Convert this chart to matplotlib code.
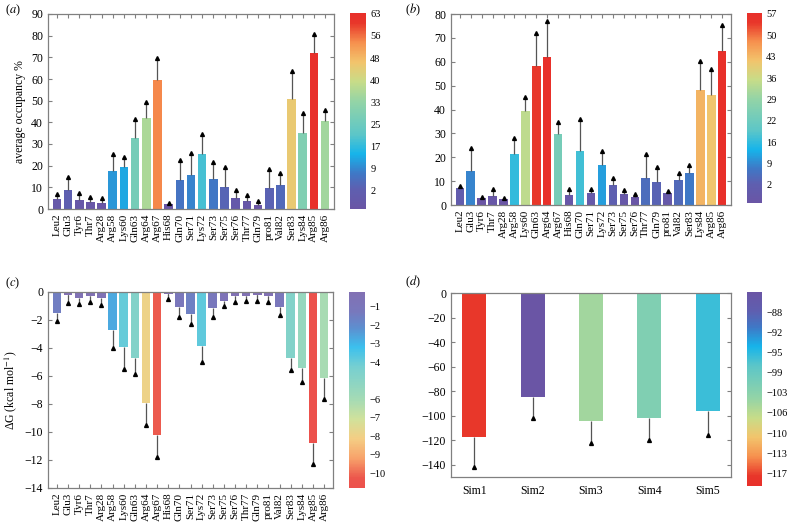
import numpy as np
import matplotlib
matplotlib.use("Agg")
import matplotlib.pyplot as plt
from matplotlib import colors as mcolors
from matplotlib import cm

plt.rcParams["font.family"] = ["Liberation Serif", "DejaVu Serif"]
plt.rcParams["mathtext.fontset"] = "stix"

residues = ['Leu2', 'Glu3', 'Tyr6', 'Thr7', 'Arg28', 'Arg58', 'Lys60', 'Gln63', 'Arg64',
            'Arg67', 'His68', 'Gln70', 'Ser71', 'Lys72', 'Ser73', 'Ser75', 'Ser76', 'Thr77',
            'Gln79', 'pro81', 'Val82', 'Ser83', 'Lys84', 'Arg85', 'Arg86']

# (a) average occupancy %
occ_a = [4.5, 8.8, 4.0, 3.2, 2.8, 17.5, 19.5, 32.7, 41.8, 59.4, 2.3, 13.2, 15.5,
         25.3, 13.8, 10.0, 4.9, 3.7, 2.0, 9.5, 10.9, 50.7, 34.9, 72.2, 40.6]
err_a = [2.4, 6.1, 3.2, 2.5, 2.3, 7.7, 4.5, 8.8, 7.4, 10.3, 0.6, 9.5, 10.2,
         9.3, 7.7, 9.4, 3.7, 2.8, 1.5, 8.8, 5.7, 13.2, 9.6, 8.6, 5.2]

# (b) average occupancy %
occ_b = [7.0, 14.4, 2.8, 3.8, 2.4, 21.5, 39.5, 58.1, 62.0, 29.6, 4.1, 22.8, 4.9,
         16.9, 8.5, 4.5, 3.4, 11.3, 9.5, 4.9, 10.6, 13.3, 48.2, 46.2, 64.4]
err_b = [1.1, 9.3, 0.7, 3.0, 0.7, 6.6, 5.8, 14.0, 14.9, 5.0, 2.5, 13.4, 1.7,
         5.7, 2.7, 1.9, 1.1, 10.2, 6.6, 1.1, 2.8, 3.3, 12.1, 10.9, 11.0]

# (c) dG per residue
dg_c = [-1.52, -0.19, -0.40, -0.31, -0.45, -2.69, -3.95, -4.74, -7.93, -10.21, -0.14,
        -1.07, -1.57, -3.83, -1.17, -0.64, -0.26, -0.31, -0.24, -0.31, -1.07, -4.69,
        -5.45, -10.79, -6.12]
err_c = [0.55, 0.60, 0.43, 0.40, 0.45, 1.29, 1.53, 1.12, 1.59, 1.58, 0.38,
         0.69, 0.72, 1.15, 0.62, 0.38, 0.43, 0.36, 0.38, 0.43, 0.55, 0.91,
         0.95, 1.47, 1.50]

# (d) per simulation
sims = ['Sim1', 'Sim2', 'Sim3', 'Sim4', 'Sim5']
dg_d = [-117.5, -84.5, -104.5, -101.5, -96.0]
err_d = [24.0, 17.0, 17.5, 18.5, 20.0]

# colour ranges (bars / colour bars) and colour bar labels
bar_a_range = (2.0, 69.0)
cb_a_range = (-4.3, 63.3)
cb_a_labels = ['2', '9', '17', '25', '33', '40', '48', '56', '63']
bar_b_range = (2.7, 61.2)
cb_b_range = (-3.8, 57.3)
cb_b_labels = ['2', '9', '16', '22', '29', '36', '43', '50', '57']
cb_c_range = (-10.8, -0.2)
cb_c_ticks = [-1, -2, -3, -4, -6, -7, -8, -9, -10]
cb_d_range = (-119.3, -84.3)
cb_d_labels = ['\u221288', '\u221292', '\u221295', '\u221299', '\u2212103', '\u2212106',
               '\u2212110', '\u2212113', '\u2212117']

stops = [(0.0, '#6a55a5'), (0.10, '#5e5fb0'), (0.18, '#3f78c6'), (0.28, '#16b4ea'),
         (0.38, '#5cc6c8'), (0.55, '#94d4a6'), (0.65, '#c8dc88'), (0.75, '#f2c46c'),
         (0.85, '#f6904e'), (0.95, '#e8362a'), (1.0, '#e8302a')]
cmap = mcolors.LinearSegmentedColormap.from_list('occ', stops)
cmap_r = cmap.reversed()


def lighten(c, f=0.16):
    r = np.array(mcolors.to_rgb(c))
    return tuple(r + (1 - r) * f)


cmap_light_r = mcolors.LinearSegmentedColormap.from_list(
    'light', [(1 - p, lighten(c)) for p, c in stops[::-1]])

W, H = 790, 523
fig = plt.figure(figsize=(W / 100, H / 100), dpi=100)


def px(l, t, r, b):
    return [l / W, 1 - b / H, (r - l) / W, (b - t) / H]


spine_col = '#808080'


def style(ax):
    for s in ax.spines.values():
        s.set_color(spine_col)
        s.set_linewidth(0.9)
    ax.tick_params(direction='in', top=True, right=True, length=3, color=spine_col,
                   labelsize=8.5)
    ax.tick_params(axis='x', labelsize=8)


def bars(ax, vals, errs, cmap_, norm, width=0.77):
    x = np.arange(len(vals))
    vals = np.array(vals)
    errs = np.array(errs)
    ax.bar(x, vals, width=width, color=cmap_(norm(vals)), zorder=2)
    sign = np.sign(vals)
    zero = np.zeros_like(errs)
    if sign[0] > 0:
        yerr = [zero, errs]
    else:
        yerr = [errs, zero]
    ax.errorbar(x, vals, yerr=yerr, fmt='none', ecolor='#555555', elinewidth=0.9,
                capsize=0, zorder=3)
    ax.plot(x, vals + sign * errs, '^', ms=2.8, color='black', zorder=4)
    return x


def colorbar(cax, cmap_, rng, ticks, labels):
    sm = cm.ScalarMappable(norm=mcolors.Normalize(*rng), cmap=cmap_)
    cb = fig.colorbar(sm, cax=cax)
    cb.outline.set_visible(False)
    cb.set_ticks(ticks)
    cb.set_ticklabels(labels)
    cax.tick_params(length=0, labelsize=7.5, pad=3)


# (a)
ax_a = fig.add_axes(px(48, 14, 334, 209))
x = bars(ax_a, occ_a, err_a, cmap, mcolors.Normalize(*bar_a_range))
ax_a.set_xlim(-0.8, 24.8)
ax_a.set_ylim(0, 90)
ax_a.set_yticks(np.arange(0, 91, 10))
ax_a.set_xticks(x)
ax_a.set_xticklabels(residues, rotation=90)
ax_a.set_ylabel('average occupancy %', fontsize=8.5)
style(ax_a)
cax_a = fig.add_axes(px(350, 13, 366, 209))
colorbar(cax_a, cmap, cb_a_range, np.linspace(2, 63, 9), cb_a_labels)

# (b)
ax_b = fig.add_axes(px(451, 14, 731, 205))
x = bars(ax_b, occ_b, err_b, cmap, mcolors.Normalize(*bar_b_range))
ax_b.set_xlim(-0.8, 24.8)
ax_b.set_ylim(0, 80)
ax_b.set_yticks(np.arange(0, 81, 10))
ax_b.set_xticks(x)
ax_b.set_xticklabels(residues, rotation=90)
style(ax_b)
cax_b = fig.add_axes(px(747, 13, 762, 203))
colorbar(cax_b, cmap, cb_b_range, np.linspace(2, 57, 9), cb_b_labels)

# (c)
ax_c = fig.add_axes(px(48, 292, 333, 488))
x = bars(ax_c, dg_c, err_c, cmap_light_r, mcolors.Normalize(*cb_c_range))
ax_c.set_xlim(-0.8, 24.8)
ax_c.set_ylim(-14, 0)
ax_c.set_yticks(np.arange(-14, 1, 2))
ax_c.set_xticks(x)
ax_c.set_xticklabels(residues, rotation=90)
ax_c.set_ylabel('\u0394G (kcal mol$^{-1}$)', fontsize=8.5)
style(ax_c)
cax_c = fig.add_axes(px(349, 292, 365, 488))
colorbar(cax_c, cmap_light_r, cb_c_range, cb_c_ticks,
         ['\u2212%d' % abs(t) for t in cb_c_ticks])

# (d)
ax_d = fig.add_axes(px(451, 293, 731, 477))
x = bars(ax_d, dg_d, err_d, cmap_r, mcolors.Normalize(*cb_d_range), width=0.41)
ax_d.set_xlim(-0.4, 4.4)
ax_d.set_ylim(-150, 0)
ax_d.set_yticks(np.arange(-140, 1, 20))
ax_d.set_xticks(x)
ax_d.set_xticklabels(sims)
style(ax_d)
ax_d.tick_params(axis='x', top=False, labelsize=8.5, length=0, pad=6)
cax_d = fig.add_axes(px(747, 292, 762, 486))
colorbar(cax_d, cmap_r, cb_d_range, np.linspace(-88, -117, 9), cb_d_labels)

# panel letters
for lab, xx, yy in [('a', 5, 10), ('b', 405, 10), ('c', 5, 283), ('d', 405, 282)]:
    fig.text(xx / W, 1 - yy / H, '($\\mathit{%s}$)' % lab, fontsize=9, va='center')

fig.savefig('out.png', dpi=100)
